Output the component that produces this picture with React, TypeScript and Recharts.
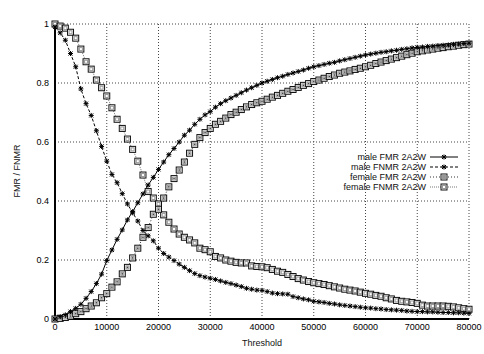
import React from 'react';
import {
  LineChart,
  Line,
  XAxis,
  YAxis,
  CartesianGrid,
  Legend
} from 'recharts';

const THRESHOLDS = [
  0, 1000, 2000, 3000, 4000, 5000, 6000, 7000, 8000, 9000,
  10000, 11000, 12000, 13000, 14000, 15000, 16000, 17000, 18000, 19000,
  20000, 21000, 22000, 23000, 24000, 25000, 26000, 27000, 28000, 29000,
  30000, 31000, 32000, 33000, 34000, 35000, 36000, 37000, 38000, 39000,
  40000, 41000, 42000, 43000, 44000, 45000, 46000, 47000, 48000, 49000,
  50000, 51000, 52000, 53000, 54000, 55000, 56000, 57000, 58000, 59000,
  60000, 61000, 62000, 63000, 64000, 65000, 66000, 67000, 68000, 69000,
  70000, 71000, 72000, 73000, 74000, 75000, 76000, 77000, 78000, 79000,
  80000
];

const MALE_FMR = [
  0, 0.008, 0.014, 0.025, 0.036, 0.05, 0.07, 0.093, 0.12, 0.152,
  0.198, 0.234, 0.27, 0.302, 0.336, 0.364, 0.394, 0.424, 0.454, 0.48,
  0.507, 0.532, 0.557, 0.578, 0.6, 0.623, 0.64, 0.66, 0.677, 0.692,
  0.703, 0.718, 0.73, 0.74, 0.749, 0.758, 0.767, 0.776, 0.784, 0.792,
  0.8, 0.806, 0.812, 0.818, 0.823, 0.829, 0.834, 0.839, 0.844, 0.85,
  0.855, 0.859, 0.863, 0.867, 0.87, 0.875, 0.879, 0.883, 0.887, 0.891,
  0.895, 0.898, 0.901, 0.904, 0.906, 0.909, 0.911, 0.914, 0.916, 0.919,
  0.921, 0.922, 0.924, 0.925, 0.927, 0.928, 0.929, 0.931, 0.932, 0.934,
  0.935
];

const MALE_FNMR = [
  0.99, 0.97, 0.945, 0.9, 0.855, 0.78, 0.73, 0.69, 0.638, 0.585,
  0.535, 0.49, 0.462, 0.425, 0.39, 0.36, 0.332, 0.3, 0.282, 0.265,
  0.24, 0.222, 0.21, 0.198, 0.186, 0.175, 0.164, 0.154, 0.147, 0.142,
  0.138, 0.134, 0.129, 0.124, 0.12, 0.115, 0.11, 0.104, 0.101, 0.098,
  0.097, 0.093, 0.088, 0.086, 0.085, 0.084, 0.076, 0.072, 0.068, 0.065,
  0.06, 0.058, 0.056, 0.053, 0.051, 0.048, 0.046, 0.044, 0.042, 0.04,
  0.038, 0.037, 0.035, 0.034, 0.032, 0.031, 0.03, 0.029, 0.027, 0.026,
  0.025, 0.025, 0.024, 0.024, 0.023, 0.022, 0.022, 0.021, 0.021, 0.02,
  0.019
];

const FEMALE_FMR = [
  0, 0.002, 0.005, 0.01, 0.018, 0.025, 0.035, 0.044, 0.055, 0.072,
  0.086, 0.108, 0.126, 0.153, 0.175, 0.207, 0.24, 0.277, 0.31, 0.355,
  0.372, 0.41, 0.448, 0.476, 0.505, 0.532, 0.562, 0.592, 0.615, 0.632,
  0.646, 0.66, 0.67, 0.681, 0.693, 0.701, 0.71, 0.719, 0.727, 0.733,
  0.738, 0.745, 0.752, 0.758, 0.765, 0.772, 0.778, 0.785, 0.792, 0.798,
  0.805, 0.81, 0.816, 0.822, 0.827, 0.833, 0.837, 0.841, 0.846, 0.85,
  0.855, 0.86, 0.866, 0.871, 0.876, 0.881, 0.886, 0.891, 0.896, 0.901,
  0.906, 0.909, 0.912, 0.915, 0.918, 0.92, 0.923, 0.925, 0.928, 0.93,
  0.932
];

const FEMALE_FNMR = [
  1.0, 0.993, 0.986, 0.972, 0.952, 0.915, 0.872, 0.847, 0.81, 0.784,
  0.756, 0.716, 0.677, 0.646, 0.61, 0.575, 0.535, 0.488, 0.432, 0.41,
  0.39, 0.353, 0.328, 0.305, 0.288, 0.277, 0.268, 0.258, 0.24, 0.235,
  0.228, 0.212, 0.207, 0.2, 0.196, 0.192, 0.19, 0.19, 0.18, 0.178,
  0.177, 0.174, 0.168, 0.162, 0.158, 0.151, 0.144, 0.137, 0.132, 0.127,
  0.123, 0.12, 0.117, 0.113, 0.109, 0.105, 0.101, 0.098, 0.095, 0.091,
  0.087, 0.084, 0.08, 0.077, 0.072, 0.068, 0.063, 0.06, 0.058, 0.056,
  0.053, 0.047, 0.044, 0.044, 0.044, 0.044, 0.043, 0.041, 0.038, 0.035,
  0.033
];

const X_TICKS = [0, 10000, 20000, 30000, 40000, 50000, 60000, 70000, 80000];
const Y_TICKS = [0, 0.2, 0.4, 0.6, 0.8, 1];

const data = THRESHOLDS.map((t, i) => ({
  t,
  maleFmr: MALE_FMR[i],
  maleFnmr: MALE_FNMR[i],
  femaleFmr: FEMALE_FMR[i],
  femaleFnmr: FEMALE_FNMR[i]
}));

const FONT = '"Liberation Sans", Arial, sans-serif';

// marker shapes (gnuplot-ish)
const Star = ({ cx, cy }: { cx: number; cy: number }) => (
  <g stroke="#000" strokeWidth={1}>
    <line x1={cx - 2.5} y1={cy} x2={cx + 2.5} y2={cy} />
    <line x1={cx} y1={cy - 2.5} x2={cx} y2={cy + 2.5} />
    <line x1={cx - 2} y1={cy - 2} x2={cx + 2} y2={cy + 2} />
    <line x1={cx - 2} y1={cy + 2} x2={cx + 2} y2={cy - 2} />
  </g>
);

const Box = ({ cx, cy, dot }: { cx: number; cy: number; dot?: boolean }) => (
  <g>
    <rect x={cx - 3} y={cy - 3} width={6} height={6} fill="#fff" stroke="#111" strokeWidth={1} />
    <rect x={cx - 1.5} y={cy - 1.5} width={3} height={3} fill="none" stroke="#999" strokeWidth={1} />
    {dot && <rect x={cx - 0.75} y={cy - 0.75} width={1.5} height={1.5} fill="#444" />}
  </g>
);

const SERIES = [
  { key: 'maleFmr', name: 'male FMR 2A2W', stroke: '#000', dash: undefined, marker: 'star' },
  { key: 'maleFnmr', name: 'male FNMR 2A2W', stroke: '#000', dash: '3 2', marker: 'star' },
  { key: 'femaleFmr', name: 'female FMR 2A2W', stroke: '#333', dash: '1 2', marker: 'boxdot' },
  { key: 'femaleFnmr', name: 'female FNMR 2A2W', stroke: '#777', dash: '1 1', marker: 'box' }
];

const renderMarker = (marker: string, cx: number, cy: number) => {
  if (marker === 'star') return <Star cx={cx} cy={cy} />;
  return <Box cx={cx} cy={cy} dot={marker === 'boxdot'} />;
};

const LegendBox = () => (
  <svg width={484} height={354} style={{ position: 'absolute', left: 0, top: 0 }}>
    {SERIES.map((s, i) => {
      const y = 157 + i * 10;
      return (
        <g key={s.key}>
          <text x={426} y={y + 3} textAnchor="end" fontSize={9} fontFamily={FONT} fill="#111">
            {s.name}
          </text>
          <line x1={430} y1={y} x2={458} y2={y} stroke={s.stroke} strokeDasharray={s.dash} />
          {renderMarker(s.marker, 444, y)}
        </g>
      );
    })}
  </svg>
);

const App = () => {
  return (
    <div style={{ position: 'absolute', left: 0, top: 0, width: 484, height: 354, background: '#fff' }}>
      <LineChart
        width={484}
        height={354}
        data={data}
        margin={{ top: 24, right: 15, left: 0, bottom: 0 }}
      >
        <CartesianGrid stroke="#444" strokeDasharray="1 2" />
        <XAxis
          dataKey="t"
          type="number"
          domain={[0, 80000]}
          ticks={X_TICKS}
          height={35}
          tickLine={false}
          tickSize={3}
          tickMargin={2}
          axisLine={{ stroke: '#000', strokeWidth: 2 }}
          tick={{ fontSize: 9, fontFamily: FONT, fill: '#000' }}
          label={{
            content: () => (
              <text x={262} y={346} textAnchor="middle" fontSize={9} fontFamily={FONT} fill="#111">
                Threshold
              </text>
            )
          }}
        />
        <XAxis
          xAxisId="top"
          orientation="top"
          dataKey="t"
          type="number"
          domain={[0, 80000]}
          ticks={X_TICKS}
          height={0}
          tick={false}
          tickLine={false}
          axisLine={{ stroke: '#000', strokeWidth: 2 }}
          label={{
            content: () => (
              <text x={262} y={13} textAnchor="middle" fontSize={9} fontFamily={FONT} fill="#111">
                2A2W Watermarking Scheme - Male/Female
              </text>
            )
          }}
        />
        <YAxis
          type="number"
          domain={[0, 1]}
          ticks={Y_TICKS}
          width={55}
          tickLine={false}
          tickSize={4}
          tickMargin={2}
          axisLine={{ stroke: '#000', strokeWidth: 2 }}
          tick={{ fontSize: 9, fontFamily: FONT, fill: '#000' }}
          label={{
            content: () => (
              <text
                x={20}
                y={171}
                transform="rotate(-90 20 171)"
                textAnchor="middle"
                fontSize={9}
                fontFamily={FONT}
                fill="#111"
              >
                FMR / FNMR
              </text>
            )
          }}
        />
        <YAxis
          yAxisId="right"
          orientation="right"
          type="number"
          domain={[0, 1]}
          ticks={Y_TICKS}
          width={0}
          tick={false}
          tickLine={false}
          axisLine={{ stroke: '#000', strokeWidth: 2 }}
        />
        {[...SERIES].reverse().map((s) => (
          <Line
            key={s.key}
            dataKey={s.key}
            name={s.name}
            stroke={s.stroke}
            strokeWidth={1}
            strokeDasharray={s.dash}
            isAnimationActive={false}
            dot={(p: any) => (
              <g key={`${s.key}-${p.index}`}>{renderMarker(s.marker, p.cx, p.cy)}</g>
            )}
          />
        ))}
        <Legend
          layout="horizontal"
          verticalAlign="middle"
          align="center"
          wrapperStyle={{ left: 0, top: 0, width: 484, height: 354, pointerEvents: 'none' }}
          content={() => <LegendBox />}
        />
      </LineChart>
    </div>
  );
};

export default App;
